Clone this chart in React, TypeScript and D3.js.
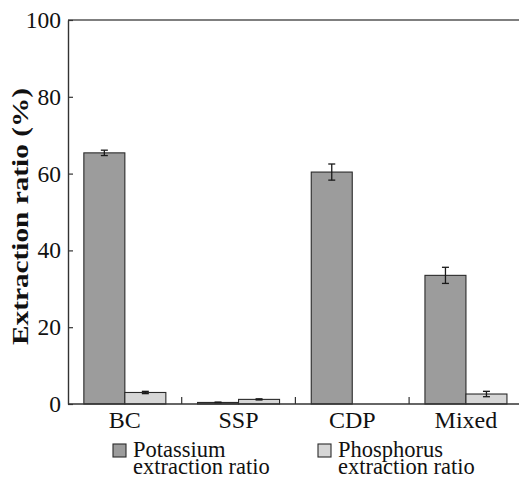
import React, { useEffect, useRef } from "react";
import * as d3 from "d3";

const categories = ["BC", "SSP", "CDP", "Mixed"];
const potassium = [65.4, 0.4, 60.4, 33.5];
const potassiumErr = [0.7, 0.1, 2.1, 2.1];
const phosphorus = [3.0, 1.2, 0, 2.6];
const phosphorusErr = [0.3, 0.15, 0, 0.7];
const yTicks = [0, 20, 40, 60, 80, 100];
const seriesNames = ["Potassium", "Phosphorus"];
const seriesColors = ["#9c9c9c", "#d6d6d6"];

const W = 519;
const H = 478;
const left = 68;
const top = 20;
const bottom = 404;
const step = 113.7;
const barW = 41;
const font = "'Liberation Serif', 'Times New Roman', serif";

const App = () => {
  const svgRef = useRef<SVGSVGElement>(null);

  useEffect(() => {
    const svg = d3.select(svgRef.current);
    svg.selectAll("*").remove();

    const y = d3.scaleLinear().domain([0, 100]).range([bottom, top]);
    const x = d3
      .scaleBand()
      .domain(categories)
      .range([left, left + step * categories.length])
      .padding(0);
    const sub = d3
      .scaleBand()
      .domain(seriesNames)
      .range([(step - 2 * barW) / 2, (step + 2 * barW) / 2])
      .padding(0);

    const rows = categories.map((c, i) => ({
      cat: c,
      vals: [
        { s: "Potassium", v: potassium[i], e: potassiumErr[i] },
        { s: "Phosphorus", v: phosphorus[i], e: phosphorusErr[i] },
      ],
    }));

    // bars
    const g = svg
      .selectAll(".grp")
      .data(rows)
      .join("g")
      .attr("class", "grp")
      .attr("transform", (d) => `translate(${x(d.cat)},0)`);

    g.selectAll("rect")
      .data((d) => d.vals.filter((v) => v.v > 0))
      .join("rect")
      .attr("x", (d) => sub(d.s)!)
      .attr("width", sub.bandwidth())
      .attr("y", (d) => y(d.v))
      .attr("height", (d) => bottom - y(d.v))
      .attr("fill", (d) => seriesColors[seriesNames.indexOf(d.s)])
      .attr("stroke", "#2a2a2a")
      .attr("stroke-width", 1.1);

    // error bars
    const eb = g
      .selectAll(".err")
      .data((d) => d.vals.filter((v) => v.e > 0))
      .join("g")
      .attr("class", "err")
      .attr("stroke", "#1a1a1a")
      .attr("stroke-width", 1.3);
    const cx = (d: any) => sub(d.s)! + sub.bandwidth() / 2;
    eb.append("line")
      .attr("x1", cx)
      .attr("x2", cx)
      .attr("y1", (d) => y(d.v - d.e))
      .attr("y2", (d) => y(d.v + d.e));
    [1, -1].forEach((sgn) => {
      eb.append("line")
        .attr("x1", (d) => cx(d) - 3.5)
        .attr("x2", (d) => cx(d) + 3.5)
        .attr("y1", (d) => y(d.v + sgn * d.e))
        .attr("y2", (d) => y(d.v + sgn * d.e));
    });

    // frame: top line and bottom axis (no right side)
    svg
      .append("line")
      .attr("x1", left)
      .attr("x2", W)
      .attr("y1", top)
      .attr("y2", top)
      .attr("stroke", "#555")
      .attr("stroke-width", 1.3);
    svg
      .append("line")
      .attr("x1", left)
      .attr("x2", W)
      .attr("y1", bottom)
      .attr("y2", bottom)
      .attr("stroke", "#333")
      .attr("stroke-width", 1.4);

    const yAxis = svg
      .append("g")
      .attr("transform", `translate(${left},0)`)
      .call(d3.axisLeft(y).tickValues(yTicks).tickSizeInner(-5).tickSizeOuter(0).tickPadding(7));
    yAxis.select(".domain").attr("stroke", "#333").attr("stroke-width", 1.4);
    yAxis.selectAll(".tick line").attr("stroke", "#333").attr("stroke-width", 1.2);
    yAxis
      .selectAll(".tick text")
      .attr("font-family", font)
      .attr("font-size", 23.5)
      .attr("fill", "#111");

    // category separators
    svg
      .selectAll(".sep")
      .data(categories.slice(1))
      .join("line")
      .attr("class", "sep")
      .attr("x1", (d) => x(d)!)
      .attr("x2", (d) => x(d)!)
      .attr("y1", bottom)
      .attr("y2", bottom - 7)
      .attr("stroke", "#333")
      .attr("stroke-width", 1.2);

    svg
      .selectAll(".cat")
      .data(categories)
      .join("text")
      .attr("class", "cat")
      .attr("x", (d) => x(d)! + step / 2)
      .attr("y", 428)
      .attr("text-anchor", "middle")
      .attr("font-family", font)
      .attr("font-size", 24)
      .attr("fill", "#111")
      .text((d) => d);

    svg
      .append("text")
      .attr("transform", `translate(28,${(88 + 345) / 2}) rotate(-90)`)
      .attr("text-anchor", "middle")
      .attr("font-family", font)
      .attr("font-weight", "bold")
      .attr("font-size", 23)
      .attr("textLength", 257)
      .attr("lengthAdjust", "spacingAndGlyphs")
      .attr("fill", "#111")
      .text("Extraction ratio (%)");

    // legend
    const legendX = [113, 318];
    const lg = svg
      .selectAll(".lg")
      .data(seriesNames)
      .join("g")
      .attr("class", "lg")
      .attr("transform", (d, i) => `translate(${legendX[i]},444)`);
    lg.append("rect")
      .attr("width", 13)
      .attr("height", 13)
      .attr("fill", (d, i) => seriesColors[i])
      .attr("stroke", "#2a2a2a")
      .attr("stroke-width", 1.1);
    lg.append("text")
      .attr("x", 20)
      .attr("y", 13)
      .attr("font-family", font)
      .attr("font-size", 22.5)
      .attr("fill", "#111")
      .text((d) => d);
    lg.append("text")
      .attr("x", 20)
      .attr("y", 30)
      .attr("font-family", font)
      .attr("font-size", 22.5)
      .attr("fill", "#111")
      .text("extraction ratio");
  }, []);

  return (
    <svg
      ref={svgRef}
      width={W}
      height={H}
      style={{ position: "absolute", left: 0, top: 0, background: "#fff" }}
    />
  );
};

export default App;
